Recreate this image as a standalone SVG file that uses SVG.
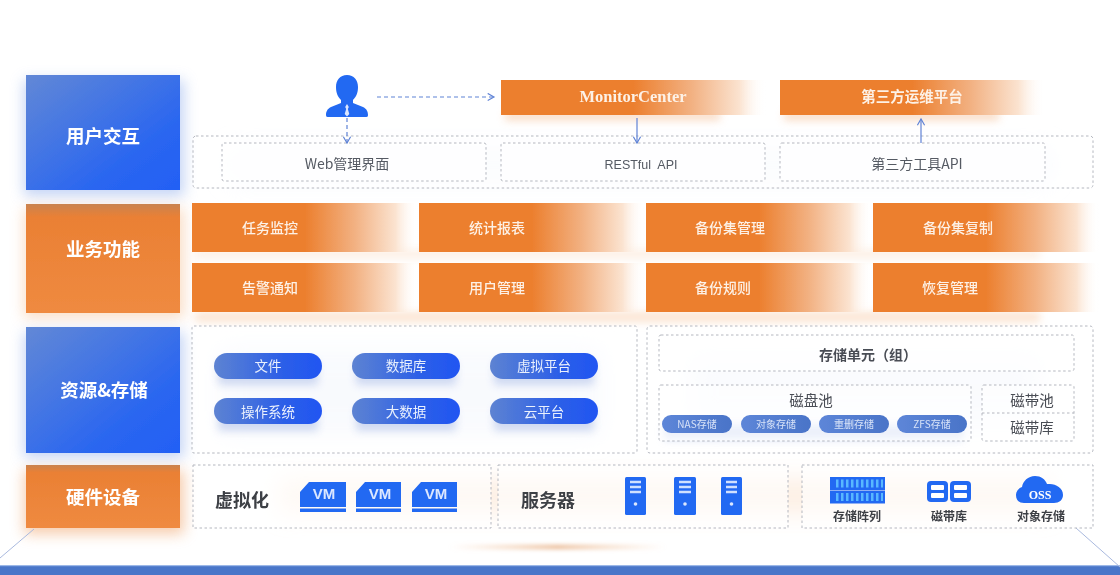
<svg xmlns="http://www.w3.org/2000/svg" width="1120" height="575" viewBox="0 0 1120 575">
<style>
text{font-family:"Noto Sans CJK SC","Noto Sans",sans-serif;text-anchor:middle}
.head{font-size:18.5px;font-weight:700;fill:#fff}
.bar{font-size:14px;font-weight:500;fill:#fdf1e6}
.barT{font-size:14.5px;font-weight:700;fill:#fdf1e6}
.dash{fill:#fff;fill-opacity:.6;stroke:#b4b7bf;stroke-width:1;stroke-dasharray:2.500 2.500}
.lab{font-size:14px;fill:#555a63}
.pill{font-size:13.5px;fill:#e9f0fd}
.sp{font-size:10px;fill:#d8e3f8}
.dk{font-size:14.5px;fill:#4a4d55}
.big{font-size:18px;font-weight:700;fill:#3d3f45}
.sm{font-size:12px;font-weight:700;fill:#3d3f45}
.vm{font-size:15px;font-weight:700;fill:#dbe7ff;font-family:"Liberation Sans",sans-serif}
.ico{fill:#2469f2}
.cn{fill:none;stroke-width:1.2}
</style>
<defs>
<linearGradient id="gBlue" x1="0" y1="0" x2="1" y2="1"><stop offset="0" stop-color="#6288d6"/><stop offset=".7" stop-color="#2a66f0"/><stop offset="1" stop-color="#2360f5"/></linearGradient>
<linearGradient id="gOrange" x1="0" y1="0" x2="0" y2="1"><stop offset="0" stop-color="#c98350"/><stop offset=".12" stop-color="#ea8034"/><stop offset="1" stop-color="#ef8a40"/></linearGradient>
<linearGradient id="gFade" x1="0" y1="0" x2="1" y2="0"><stop offset="0" stop-color="#ec7f2e"/><stop offset=".5" stop-color="#ec7f2e"/><stop offset=".72" stop-color="#f2b182"/><stop offset=".9" stop-color="#fbe3d0"/><stop offset="1" stop-color="#fff" stop-opacity="0"/></linearGradient>
<linearGradient id="gPill" x1="0" y1="0" x2="1" y2="0"><stop offset="0" stop-color="#5d83d2"/><stop offset=".65" stop-color="#2b5ee8"/><stop offset="1" stop-color="#2156f2"/></linearGradient>
<linearGradient id="gSmall" x1="0" y1="0" x2="1" y2="0"><stop offset="0" stop-color="#5d86d8"/><stop offset="1" stop-color="#4a74c8"/></linearGradient>
<linearGradient id="gShade" x1="0" y1="0" x2="1" y2="0"><stop offset="0" stop-color="#f5c9a4" stop-opacity="0"/><stop offset=".5" stop-color="#e9b68f"/><stop offset="1" stop-color="#f5c9a4" stop-opacity="0"/></linearGradient>
<filter id="b6" x="-30%" y="-50%" width="160%" height="200%"><feGaussianBlur stdDeviation="7"/></filter>
<filter id="b9" x="-30%" y="-80%" width="160%" height="260%"><feGaussianBlur stdDeviation="12"/></filter>
<filter id="b3" x="-20%" y="-150%" width="140%" height="400%"><feGaussianBlur stdDeviation="4"/></filter>
<filter id="b2" x="-10%" y="-300%" width="120%" height="700%"><feGaussianBlur stdDeviation="2"/></filter>
<filter id="soft" x="-2%" y="-10%" width="104%" height="120%"><feGaussianBlur stdDeviation=".4"/></filter>
<marker id="arr" viewBox="0 0 10 10" refX="8" refY="5" markerWidth="9" markerHeight="9" orient="auto" markerUnits="userSpaceOnUse"><path d="M1 1L8 5L1 9" fill="none" stroke="#5f83d6" stroke-width="1.3"/></marker>
</defs>
<rect width="1120" height="575" fill="#fff"/>
<g id="glows">
<rect x="24" y="80" width="160" height="116" fill="#9db7ee" opacity=".6" filter="url(#b6)"/>
<rect x="24" y="208" width="160" height="110" fill="#f6c7a0" opacity=".6" filter="url(#b6)"/>
<rect x="24" y="332" width="160" height="126" fill="#9db7ee" opacity=".6" filter="url(#b6)"/>
<rect x="24" y="470" width="160" height="64" fill="#f2b080" opacity=".65" filter="url(#b6)"/>
<rect x="195" y="250" width="845" height="8" fill="#f8d3b4" opacity=".4" filter="url(#b3)"/>
<rect x="195" y="312" width="845" height="10" fill="#f8c9a3" opacity=".5" filter="url(#b3)"/>
<rect x="505" y="112" width="215" height="8" fill="#f4bd94" opacity=".6" filter="url(#b3)"/>
<rect x="784" y="112" width="215" height="8" fill="#f4bd94" opacity=".6" filter="url(#b3)"/>
<rect x="230" y="150" width="820" height="30" fill="#e8eef9" opacity=".5" filter="url(#b9)"/>
<rect x="220" y="350" width="380" height="85" fill="#dfe7f8" opacity=".5" filter="url(#b9)"/>
<rect x="690" y="355" width="350" height="70" fill="#e8eef9" opacity=".55" filter="url(#b9)"/>
<rect x="280" y="480" width="770" height="32" fill="#fbe3cf" opacity=".6" filter="url(#b9)"/>
<rect x="450" y="545" width="215" height="4" fill="url(#gShade)" filter="url(#b2)"/>
</g>
<g filter="url(#soft)">
<g id="platform">
<rect x="0" y="566" width="1120" height="9" fill="#4a76c9"/>
<rect x="0" y="565" width="1120" height="1.2" fill="#9cb8e8"/>
<path d="M34 529L0 558M1076 528L1120 567" fill="none" stroke="#a9b9de" stroke-width="1"/>
</g>
<g id="layer-user">
<rect x="26" y="75" width="154" height="115" fill="url(#gBlue)"/>
<text class="head" x="103" y="143">用户交互</text>
<rect class="dash" x="193" y="136" width="900" height="52" rx="3"/>
</g>
<g id="user-icon">
<path class="ico" d="M347 75c-7 0-11 5-11 12 0 6 2 10 5 13v3l-10 4c-4 2-5 5-5 8 0 2 1 2 3 2h36c2 0 3 0 3-2 0-3-1-6-5-8l-10-4v-3c3-3 5-7 5-13 0-7-4-12-11-12z"/>
<path d="M347 104l1.800 3-1 2 1.500 5-2.300 2.500-2.300-2.500 1.500-5-1-2z" fill="#dbe7ff"/>
</g>
<g id="web-ui"><rect class="dash" x="222" y="143" width="264" height="38" rx="2"/><text class="lab" x="347" y="169">Web管理界面</text></g>
<g id="restful-api"><rect class="dash" x="501" y="143" width="264" height="38" rx="2"/><text class="lab" x="641" y="169" xml:space="preserve" style="font-family:'Liberation Sans',sans-serif;font-size:12.500px">RESTful  API</text></g>
<g id="third-tool-api"><rect class="dash" x="780" y="143" width="265" height="38" rx="2"/><text class="lab" x="917" y="169">第三方工具API</text></g>
<g id="monitor-center"><rect x="501" y="80" width="265" height="35" fill="url(#gFade)"/><text class="barT" x="633" y="102" style="font-family:'Liberation Serif',serif;font-size:16.500px">MonitorCenter</text></g>
<g id="third-platform"><rect x="780" y="80" width="265" height="35" fill="url(#gFade)"/><text class="barT" x="912" y="102">第三方运维平台</text></g>
<g id="connectors">
<path class="cn" d="M377 97H494" stroke="#5f83d6" stroke-dasharray="4 3" marker-end="url(#arr)"/>
<path class="cn" d="M347 118V143" stroke="#5f83d6" stroke-dasharray="4 3" marker-end="url(#arr)"/>
<path class="cn" d="M637 118V143" stroke="#5f83d6" marker-end="url(#arr)"/>
<path class="cn" d="M921 143V119" stroke="#5f83d6" marker-end="url(#arr)"/>
</g>
<g id="layer-business">
<rect x="26" y="204" width="154" height="109" fill="url(#gOrange)"/>
<text class="head" x="103" y="256">业务功能</text>
</g>
<g id="f1"><rect x="192" y="203" width="226" height="49" fill="url(#gFade)"/><text class="bar" x="270" y="233">任务监控</text></g>
<g id="f2"><rect x="419" y="203" width="226" height="49" fill="url(#gFade)"/><text class="bar" x="497" y="233">统计报表</text></g>
<g id="f3"><rect x="646" y="203" width="226" height="49" fill="url(#gFade)"/><text class="bar" x="730" y="233">备份集管理</text></g>
<g id="f4"><rect x="873" y="203" width="226" height="49" fill="url(#gFade)"/><text class="bar" x="958" y="233">备份集复制</text></g>
<g id="f5"><rect x="192" y="263" width="226" height="49" fill="url(#gFade)"/><text class="bar" x="270" y="293">告警通知</text></g>
<g id="f6"><rect x="419" y="263" width="226" height="49" fill="url(#gFade)"/><text class="bar" x="497" y="293">用户管理</text></g>
<g id="f7"><rect x="646" y="263" width="226" height="49" fill="url(#gFade)"/><text class="bar" x="723" y="293">备份规则</text></g>
<g id="f8"><rect x="873" y="263" width="226" height="49" fill="url(#gFade)"/><text class="bar" x="950" y="293">恢复管理</text></g>
<g id="layer-resource">
<rect x="26" y="327" width="154" height="126" fill="url(#gBlue)"/>
<text class="head" x="104" y="397">资源&amp;存储</text>
<rect class="dash" x="192" y="326" width="445" height="127" rx="2"/>
</g>
<g id="pill-shadows" fill="#8fa6df" opacity=".4" filter="url(#b3)">
<rect x="218" y="361" width="100" height="24"/><rect x="356" y="361" width="100" height="24"/><rect x="494" y="361" width="100" height="24"/>
<rect x="218" y="407" width="100" height="24"/><rect x="356" y="407" width="100" height="24"/><rect x="494" y="407" width="100" height="24"/>
</g>
<g id="r1"><rect x="214" y="353" width="108" height="26" rx="13" fill="url(#gPill)"/><text class="pill" x="268" y="371">文件</text></g>
<g id="r2"><rect x="352" y="353" width="108" height="26" rx="13" fill="url(#gPill)"/><text class="pill" x="406" y="371">数据库</text></g>
<g id="r3"><rect x="490" y="353" width="108" height="26" rx="13" fill="url(#gPill)"/><text class="pill" x="544" y="371">虚拟平台</text></g>
<g id="r4"><rect x="214" y="398" width="108" height="26" rx="13" fill="url(#gPill)"/><text class="pill" x="268" y="417">操作系统</text></g>
<g id="r5"><rect x="352" y="398" width="108" height="26" rx="13" fill="url(#gPill)"/><text class="pill" x="406" y="417">大数据</text></g>
<g id="r6"><rect x="490" y="398" width="108" height="26" rx="13" fill="url(#gPill)"/><text class="pill" x="544" y="417">云平台</text></g>
<g id="storage">
<rect class="dash" x="647" y="326" width="446" height="127" rx="3"/>
<rect class="dash" x="659" y="335" width="415" height="36" rx="2"/>
<text x="868" y="360" style="font-size:14px;font-weight:700;fill:#4a4d55">存储单元（组）</text>
</g>
<g id="disk-pool">
<rect x="664" y="425" width="300" height="14" fill="#9db4e6" opacity=".5" filter="url(#b3)"/>
<rect class="dash" x="659" y="385" width="312" height="56" rx="2"/>
<text class="dk" x="811" y="406">磁盘池</text>
</g>
<g id="s1"><rect x="662" y="415" width="70" height="18" rx="9" fill="url(#gSmall)"/><text class="sp" x="697" y="428">NAS存储</text></g>
<g id="s2"><rect x="741" y="415" width="70" height="18" rx="9" fill="url(#gSmall)"/><text class="sp" x="776" y="428">对象存储</text></g>
<g id="s3"><rect x="819" y="415" width="70" height="18" rx="9" fill="url(#gSmall)"/><text class="sp" x="854" y="428">重删存储</text></g>
<g id="s4"><rect x="897" y="415" width="70" height="18" rx="9" fill="url(#gSmall)"/><text class="sp" x="932" y="428">ZFS存储</text></g>
<g id="tape">
<rect class="dash" x="982" y="385" width="92" height="56" rx="2"/>
<path d="M982 413H1074" stroke="#b4b7bf" stroke-dasharray="2.500 2.500"/>
<text class="dk" x="1032" y="406">磁带池</text>
<text class="dk" x="1032" y="433">磁带库</text>
</g>
<g id="layer-hardware">
<rect x="26" y="465" width="154" height="63" fill="url(#gOrange)"/>
<text class="head" x="103" y="504">硬件设备</text>
</g>
<g id="virtualization">
<rect class="dash" x="193" y="465" width="298" height="63"/>
<text class="big" x="242" y="507">虚拟化</text>
<g id="vm1"><path class="ico" d="M300 492l9-10h37v25h-46zM300 508.500h46v3.500h-46z"/><text class="vm" x="324" y="499">VM</text></g>
<g id="vm2"><path class="ico" d="M356 492l9-10h36v25h-45zM356 508.500h45v3.500h-45z"/><text class="vm" x="380" y="499">VM</text></g>
<g id="vm3"><path class="ico" d="M412 492l9-10h36v25h-45zM412 508.500h45v3.500h-45z"/><text class="vm" x="436" y="499">VM</text></g>
</g>
<g id="servers">
<rect class="dash" x="498" y="465" width="290" height="63"/>
<text class="big" x="548" y="507">服务器</text>
<g id="srv1"><rect class="ico" x="625" y="477" width="21" height="38" rx="1.500"/><path d="M630 482h11M630 487h11M630 492h11" stroke="#cfe0ff" stroke-width="2.400"/><circle cx="635.500" cy="504" r="1.800" fill="#dbe7ff"/></g>
<g id="srv2"><rect class="ico" x="674" y="477" width="22" height="38" rx="1.500"/><path d="M679 482h12M679 487h12M679 492h12" stroke="#cfe0ff" stroke-width="2.400"/><circle cx="685" cy="504" r="1.800" fill="#dbe7ff"/></g>
<g id="srv3"><rect class="ico" x="721" y="477" width="21" height="38" rx="1.500"/><path d="M726 482h11M726 487h11M726 492h11" stroke="#cfe0ff" stroke-width="2.400"/><circle cx="731.500" cy="504" r="1.800" fill="#dbe7ff"/></g>
</g>
<g id="hardware-storage">
<rect class="dash" x="802" y="465" width="291" height="63"/>
<g id="array">
<rect class="ico" x="830" y="477" width="55" height="13"/><rect class="ico" x="830" y="490.500" width="55" height="13"/>
<path d="M836 483.500h47M836 497h47" stroke="#58b8ff" stroke-width="8" stroke-dasharray="2.500 2.500"/>
<text class="sm" x="857" y="521">存储阵列</text>
</g>
<g id="tapelib">
<rect class="ico" x="927" y="481" width="21" height="21" rx="4"/><rect x="931" y="485" width="13" height="5" rx="1" fill="#fff"/><rect x="931" y="493" width="13" height="5" rx="1" fill="#fff"/>
<rect class="ico" x="950" y="481" width="21" height="21" rx="4"/><rect x="954" y="485" width="13" height="5" rx="1" fill="#fff"/><rect x="954" y="493" width="13" height="5" rx="1" fill="#fff"/>
<text class="sm" x="949" y="521">磁带库</text>
</g>
<g id="oss">
<path class="ico" d="M1024 503c-5 0-8-3-8-8 0-4 3-7 6-8 1-6 6-11 13-11 6 0 10 3 12 8 1 0 2 0 3 0 6 0 13 4 13 11 0 5-4 8-9 8z"/>
<text x="1040" y="499" style="font-family:'Liberation Serif',serif;font-size:12px;font-weight:700;fill:#fff">OSS</text>
<text class="sm" x="1041" y="521">对象存储</text>
</g>
</g>
</g>
</svg>
